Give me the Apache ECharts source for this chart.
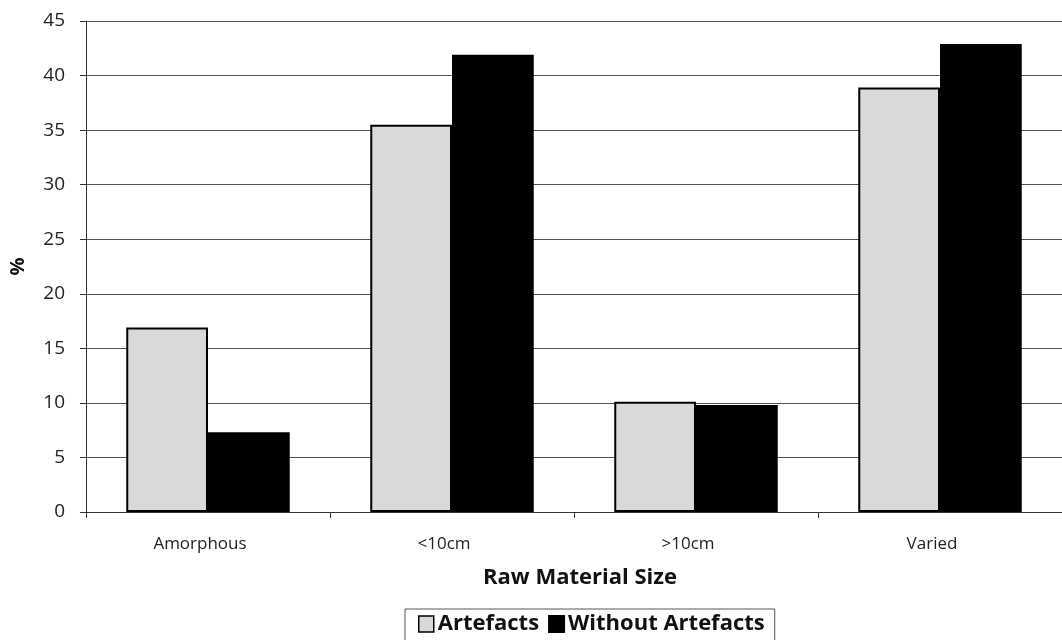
<!DOCTYPE html>
<html>
<head>
<meta charset="utf-8">
<script src="https://cdn.jsdelivr.net/npm/echarts@6/dist/echarts.min.js"></script>
<style>
  html, body { margin: 0; padding: 0; background: #fff; }
  #chart { width: 1062px; height: 640px; }
</style>
</head>
<body>
<div id="chart"></div>
<script>
// Raw material size categories and the share (%) of sites in each
const categories = ['Amorphous', '<10cm', '>10cm', 'Varied'];
const artefacts = [16.9, 35.5, 10.1, 38.9];
const withoutArtefacts = [7.3, 41.9, 9.8, 42.9];
const yTicks = [0, 5, 10, 15, 20, 25, 30, 35, 40, 45];

const FONT = '"Open Sans", "Noto Sans", sans-serif';

const chart = echarts.init(document.getElementById('chart'), null, { renderer: 'canvas' });

chart.setOption({
  animation: false,
  backgroundColor: '#ffffff',
  textStyle: { fontFamily: FONT, color: '#222' },
  grid: { left: 84, right: -5, top: 21, bottom: 128, containLabel: false },
  legend: {
    top: 609,
    left: 405,
    itemWidth: 15,
    itemHeight: 16,
    itemGap: 9,
    padding: [4, 10, 12, 13],
    borderColor: '#555',
    borderWidth: 1,
    textStyle: { fontFamily: FONT, fontSize: 22, fontWeight: 'bold', color: '#111', padding: [0, 0, 0, -1] },
    data: [
      { name: 'Artefacts', icon: 'rect', itemStyle: { color: '#d9d9d9', borderColor: '#000', borderWidth: 1.5 } },
      { name: 'Without Artefacts', icon: 'rect', itemStyle: { color: '#000' } }
    ]
  },
  xAxis: {
    type: 'category',
    data: categories,
    name: 'Raw Material Size',
    nameLocation: 'middle',
    nameGap: 55,
    nameTextStyle: { fontFamily: FONT, fontSize: 22, fontWeight: 'bold', color: '#111', padding: [0, 0, 0, 12] },
    axisLine: { lineStyle: { color: '#333', width: 1 } },
    axisTick: { show: true, length: 6, lineStyle: { color: '#333' } },
    axisLabel: { fontFamily: FONT, fontSize: 17, color: '#222', margin: 24, padding: [0, 16, 0, 0] },
    splitLine: { show: false }
  },
  yAxis: {
    type: 'value',
    min: yTicks[0],
    max: yTicks[yTicks.length - 1],
    interval: 5,
    name: '%',
    nameLocation: 'middle',
    nameGap: 58,
    nameRotate: 90,
    nameTextStyle: { fontFamily: FONT, fontSize: 20, fontWeight: 'bold', color: '#111' },
    axisLine: { show: true, lineStyle: { color: '#333', width: 1 } },
    axisTick: { show: true, length: 6, lineStyle: { color: '#333' } },
    axisLabel: { fontFamily: FONT, fontSize: 19, color: '#222', margin: 21 },
    splitLine: { show: true, lineStyle: { color: '#555', width: 1 } }
  },
  series: [
    {
      name: 'Artefacts',
      type: 'bar',
      data: artefacts,
      barGap: '0%',
      barCategoryGap: '33%',
      itemStyle: { color: '#d9d9d9', borderColor: '#000', borderWidth: 2 }
    },
    {
      name: 'Without Artefacts',
      type: 'bar',
      data: withoutArtefacts,
      barGap: '0%',
      barCategoryGap: '33%',
      itemStyle: { color: '#000', borderColor: '#000', borderWidth: 2 }
    }
  ]
});
</script>
</body>
</html>
